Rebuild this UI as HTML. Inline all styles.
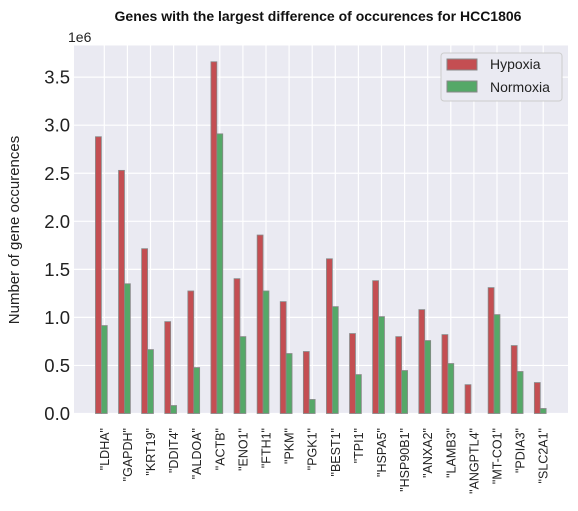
<!DOCTYPE html>
<html><head><meta charset="utf-8"><style>
body{margin:0;background:#fff;}
svg{display:block;font-family:"Liberation Sans",Arial,sans-serif;}
</style></head><body>
<svg id="chart" width="578" height="511">
<text x="318" y="21" text-anchor="middle" font-size="14" font-weight="bold" fill="#111">Genes with the largest difference of occurences for HCC1806</text>
<rect x="74" y="45.5" width="494" height="368" fill="#eaeaf2"/>
<g id="grid"></g><g id="bars"></g><g id="labels"></g>
<text x="68" y="42" font-size="14" fill="#222">1e6</text>
<text transform="translate(19,230) rotate(-90)" text-anchor="middle" font-size="15" fill="#222">Number of gene occurences</text>
<g>
<rect x="441" y="53" width="121" height="48" rx="3" fill="#eaeaf2" stroke="#ccc"/>
<rect x="447" y="59" width="30" height="11" fill="#c44e52" stroke="#888"/>
<text x="490" y="69" font-size="14" fill="#222">Hypoxia</text>
<rect x="447" y="81" width="30" height="11" fill="#55a868" stroke="#888"/>
<text x="490" y="92" font-size="14" fill="#222">Normoxia</text>
</g>
</svg>
<script>
const categories=["LDHA","GAPDH","KRT19","DDIT4","ALDOA","ACTB","ENO1","FTH1","PKM","PGK1","BEST1","TPI1","HSPA5","HSP90B1","ANXA2","LAMB3","ANGPTL4","MT-CO1","PDIA3","SLC2A1"];
const hypoxia=[2.88,2.53,1.715,0.956,1.275,3.66,1.403,1.857,1.164,0.645,1.61,0.832,1.382,0.80,1.081,0.821,0.30,1.31,0.707,0.322];
const normoxia=[0.915,1.35,0.665,0.083,0.478,2.91,0.80,1.275,0.624,0.146,1.112,0.405,1.008,0.447,0.759,0.52,0,1.029,0.437,0.052];
const yTicks=[0,0.5,1,1.5,2,2.5,3,3.5];
const yTickLabels=["0.0","0.5","1.0","1.5","2.0","2.5","3.0","3.5"];
const NS="http://www.w3.org/2000/svg";
const X=i=>104.3+i*23.1;
const Y=v=>413.5-v*96.1;
const bw=5.9;
const grid=document.getElementById('grid'),bars=document.getElementById('bars'),labels=document.getElementById('labels');
function mk(t,a,p){const e=document.createElementNS(NS,t);for(const k in a)e.setAttribute(k,a[k]);p.appendChild(e);return e;}
yTicks.forEach((v,i)=>{
 const l=mk('line',{x1:74,x2:568,y1:Y(v),y2:Y(v),stroke:'#fff','stroke-width':1.2},grid);
 
 
 const t=mk('text',{x:70,y:Y(v)+6.5,'text-anchor':'end','font-size':18.5,fill:'#222'},labels);
 t.textContent=yTickLabels[i];
 
 
});
categories.forEach((c,i)=>{
 const l=mk('line',{x1:X(i),x2:X(i),y1:45.5,y2:413.5,stroke:'#fff','stroke-width':1.2},grid);
 
 
 const r=mk('rect',{x:X(i)-bw*1.5,y:Y(hypoxia[i]),width:bw,height:Y(0)-Y(hypoxia[i]),fill:'#c44e52',stroke:'#888','stroke-width':0.8},bars);
 
 
 const g=mk('rect',{x:X(i)-bw*0.5,y:Y(normoxia[i]),width:bw,height:Y(0)-Y(normoxia[i]),fill:'#55a868',stroke:normoxia[i]>0?'#888':'none','stroke-width':0.8},bars);
 
 
 const t=mk('text',{transform:`translate(${X(i)+4.5},428) rotate(-90)`,'text-anchor':'end','font-size':12.5,fill:'#222'},labels);
 t.textContent='"'+c+'"';
 
 
});
</script>
</body></html>
